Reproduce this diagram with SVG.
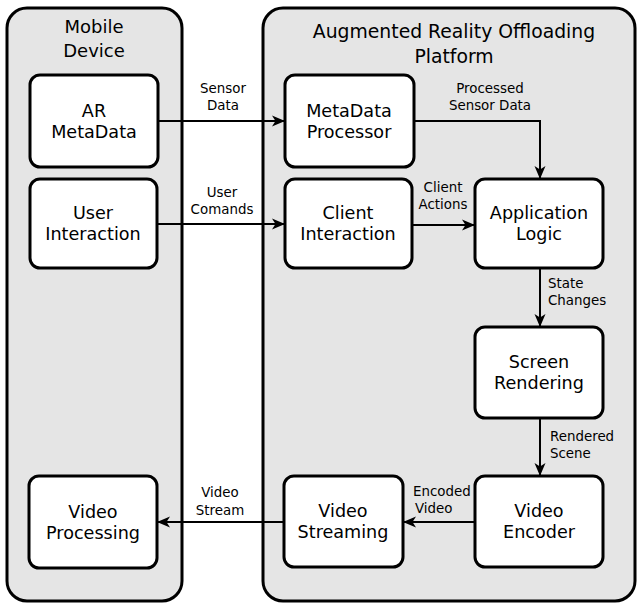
<svg xmlns="http://www.w3.org/2000/svg" width="637" height="604" viewBox="0 0 637 604">
<style>
.cont{fill:#e5e5e5;stroke:#000;stroke-width:3}
.node{fill:#fff;stroke:#000;stroke-width:3}
.title{font-family:"DejaVu Sans",sans-serif;font-size:18px;text-anchor:middle;fill:#000}
.big{font-size:18.8px}
.nt{font-family:"DejaVu Sans",sans-serif;font-size:17.6px;text-anchor:middle;fill:#000}
.lbl{font-family:"DejaVu Sans",sans-serif;font-size:13.4px;fill:#000}
.c{text-anchor:middle}
.edge{fill:none;stroke:#000;stroke-width:2}
</style>
<defs>
<marker id="ah" markerUnits="userSpaceOnUse" markerWidth="14" markerHeight="12" refX="13" refY="6" orient="auto">
<path d="M0,0.5 L13,6 L0,11.5 L3.5,6 z" fill="#000"/>
</marker>
</defs>
<g id="mobile-device">
<rect class="cont" x="7" y="8" width="175" height="593" rx="20"/>
<text class="title" x="94" y="33">Mobile</text>
<text class="title" x="94" y="57">Device</text>
</g>
<g id="ar-platform">
<rect class="cont" x="263" y="8" width="372" height="593" rx="20"/>
<text class="title big" x="454" y="38">Augmented Reality Offloading</text>
<text class="title big" x="454" y="63">Platform</text>
</g>
<g id="ar-metadata">
<rect class="node" x="30" y="75" width="128" height="92" rx="10"/>
<text class="nt" x="94" y="117">AR</text>
<text class="nt" x="94" y="138">MetaData</text>
</g>
<g id="user-interaction">
<rect class="node" x="30" y="179" width="127" height="89" rx="10"/>
<text class="nt" x="93" y="219">User</text>
<text class="nt" x="93" y="240">Interaction</text>
</g>
<g id="video-processing">
<rect class="node" x="29" y="476" width="128" height="92" rx="10"/>
<text class="nt" x="93" y="518">Video</text>
<text class="nt" x="93" y="539">Processing</text>
</g>
<g id="metadata-processor">
<rect class="node" x="285" y="75" width="129" height="92" rx="10"/>
<text class="nt" x="349" y="117">MetaData</text>
<text class="nt" x="349" y="138">Processor</text>
</g>
<g id="client-interaction">
<rect class="node" x="285" y="179" width="127" height="89" rx="10"/>
<text class="nt" x="348" y="219">Client</text>
<text class="nt" x="348" y="240">Interaction</text>
</g>
<g id="application-logic">
<rect class="node" x="475" y="179" width="128" height="89" rx="10"/>
<text class="nt" x="539" y="219">Application</text>
<text class="nt" x="539" y="240">Logic</text>
</g>
<g id="screen-rendering">
<rect class="node" x="475" y="327" width="128" height="91" rx="10"/>
<text class="nt" x="539" y="368">Screen</text>
<text class="nt" x="539" y="389">Rendering</text>
</g>
<g id="video-encoder">
<rect class="node" x="475" y="476" width="128" height="91" rx="10"/>
<text class="nt" x="539" y="517">Video</text>
<text class="nt" x="539" y="538">Encoder</text>
</g>
<g id="video-streaming">
<rect class="node" x="284" y="476" width="119" height="91" rx="10"/>
<text class="nt" x="343" y="517">Video</text>
<text class="nt" x="343" y="538">Streaming</text>
</g>
<g id="connectors">
<path class="edge" d="M158,121 H285" marker-end="url(#ah)"/>
<path class="edge" d="M157,224 H285" marker-end="url(#ah)"/>
<path class="edge" d="M414,121 H540 V179" marker-end="url(#ah)"/>
<path class="edge" d="M412,225 H475" marker-end="url(#ah)"/>
<path class="edge" d="M540,268 V327" marker-end="url(#ah)"/>
<path class="edge" d="M540,418 V476" marker-end="url(#ah)"/>
<path class="edge" d="M475,522 H403" marker-end="url(#ah)"/>
<path class="edge" d="M284,522 H157" marker-end="url(#ah)"/>
<text class="lbl c" x="223" y="93">Sensor</text>
<text class="lbl c" x="223" y="110">Data</text>
<text class="lbl c" x="222" y="197">User</text>
<text class="lbl c" x="222" y="214">Comands</text>
<text class="lbl c" x="490" y="93">Processed</text>
<text class="lbl c" x="490" y="110">Sensor Data</text>
<text class="lbl c" x="443" y="192">Client</text>
<text class="lbl c" x="443" y="209">Actions</text>
<text class="lbl" x="548" y="288">State</text>
<text class="lbl" x="548" y="305">Changes</text>
<text class="lbl" x="550" y="441">Rendered</text>
<text class="lbl" x="550" y="458">Scene</text>
<text class="lbl" x="413" y="496">Encoded</text>
<text class="lbl" x="415" y="513">Video</text>
<text class="lbl c" x="220" y="497">Video</text>
<text class="lbl c" x="220" y="515">Stream</text>
</g>
</svg>
